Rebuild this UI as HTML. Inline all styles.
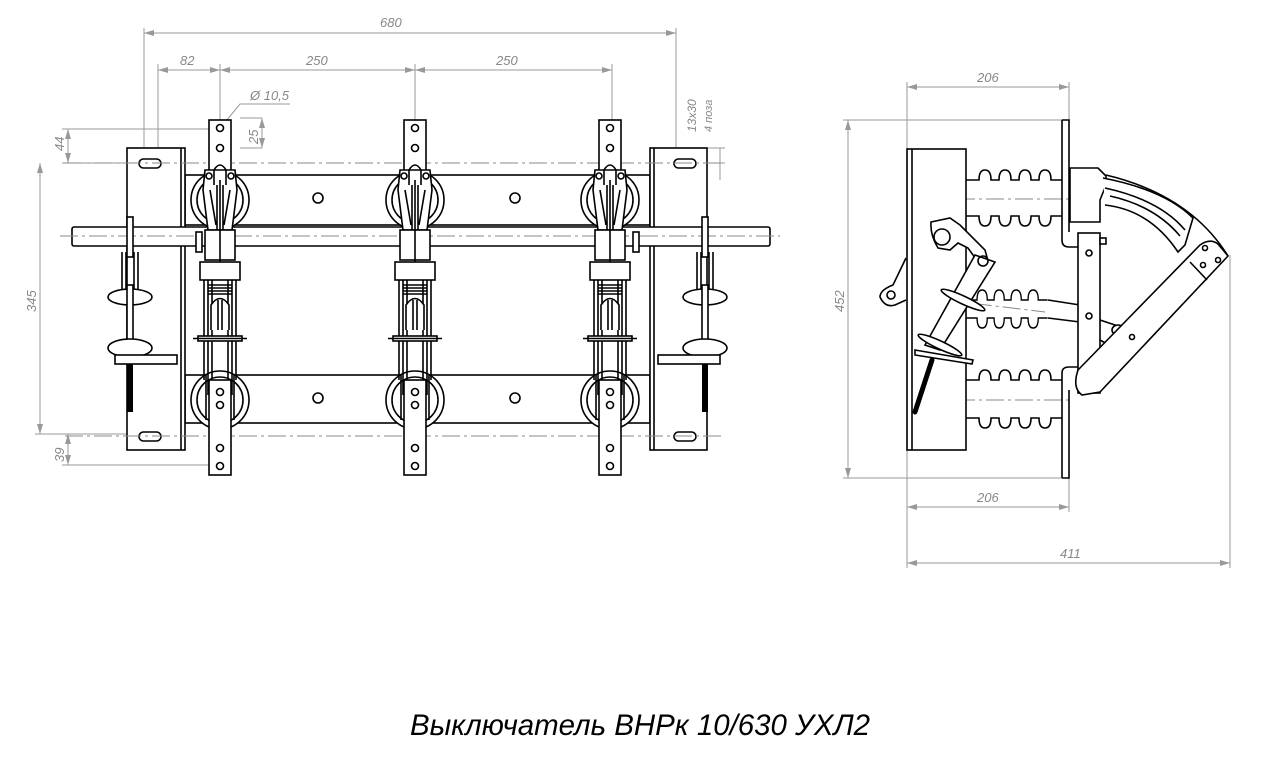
<!DOCTYPE html>
<html><head><meta charset="utf-8"><style>
html,body{margin:0;padding:0;background:#fff;}
svg{display:block;}
.k{stroke:#000;fill:none;stroke-width:1.6}
.kw{stroke:#000;fill:#fff;stroke-width:1.6}
.g{stroke:#999;fill:none;stroke-width:1}
.c{stroke:#888;fill:none;stroke-width:1;stroke-dasharray:18 4 3 4}
.t{font-family:"Liberation Sans",sans-serif;font-style:italic;fill:#888;font-size:13px}
</style></head><body>
<svg width="1265" height="758" viewBox="0 0 1265 758" xmlns="http://www.w3.org/2000/svg">
<defs>
<marker id="a" viewBox="0 0 10 6" refX="10" refY="3" markerWidth="10" markerHeight="6" orient="auto-start-reverse"><path d="M0,0L10,3L0,6z" fill="#999"/></marker>
<g id="ph">
 <circle cx="0" cy="200" r="29" class="kw"/><circle cx="0" cy="200" r="23" class="k"/>
 <circle cx="0" cy="400" r="29" class="kw"/><circle cx="0" cy="400" r="23" class="k"/>
 <rect x="-11" y="120" width="22" height="60" class="kw"/>
 <circle cx="0" cy="128" r="3.5" class="k"/><circle cx="0" cy="148" r="3.5" class="k"/>
 <path d="M-15,170 L15,170 L17,190 L12,230 L-12,230 L-17,190Z" class="kw"/>
 <path d="M-6,170 L-6,185 M6,170 L6,185 M-6,170 Q0,160 6,170 M-10,190 L-4,225 M10,190 L4,225 M-3,185 L-3,230 M3,185 L3,230" class="k"/>
 <circle cx="-11" cy="176" r="3" class="k"/><circle cx="11" cy="176" r="3" class="k"/>
 <rect x="-15" y="230" width="30" height="30" class="kw"/>
 <rect x="-20" y="262" width="40" height="18" class="kw"/>
 <path d="M0,180 L0,262" class="k" stroke-width="3"/>
 <path d="M-16,280 L-16,380 M-12,280 L-12,395 M12,280 L12,395 M16,280 L16,380 M-8,280 L-8,380 M8,280 L8,380" class="k"/>
 <path d="M-12,285 L12,285 M-12,288 L12,288 M-12,291 L12,291 M-12,294 L12,294" class="k"/>
 <path d="M-9,330 L-9,305 Q0,292 9,305 L9,330" class="kw"/>
 <path d="M-2,300 L-2,330 M2,300 L2,330" class="k"/>
 <rect x="-22" y="336" width="44" height="5" class="kw"/>
 <path d="M-27,338.5 L27,338.5" class="k" stroke-width="1"/>
 <rect x="-11" y="380" width="22" height="95" class="kw"/>
 <path d="M-14,375 L-14,420 M14,375 L14,420" class="k"/>
 <circle cx="0" cy="392" r="3.5" class="k" stroke-width="2.2"/><circle cx="0" cy="405" r="3.5" class="k" stroke-width="2.2"/>
 <circle cx="0" cy="448" r="3.5" class="k"/><circle cx="0" cy="466" r="3.5" class="k"/>
</g>
<g id="mech">
 <rect x="-3" y="217" width="6" height="40" class="kw"/>
 <path d="M-8,252 L-8,300 M-4,252 L-4,300 M4,252 L4,300 M8,252 L8,300" class="k"/>
 <ellipse cx="0" cy="297" rx="22" ry="8" class="kw"/>
 <rect x="-3" y="285" width="6" height="60" class="kw"/>
 <ellipse cx="0" cy="348" rx="22" ry="9" class="kw"/>
 <rect x="-15" y="355" width="62" height="9" class="kw"/>
 <rect x="-3" y="364" width="6" height="48" fill="#000"/>
</g>
<path id="bu" d="M0,0 L9,0 l4,0 q0,-10 6,-10 q6,0 6,10 l4,0 l4,0 q0,-10 6,-10 q6,0 6,10 l4,0 l4,0 q0,-10 6,-10 q6,0 6,10 l4,0 l4,0 q0,-10 6,-10 q6,0 6,10 l4,0 L96,0" class="k"/>
</defs>

<g class="g">
 <path d="M144,28 L144,450 M676,28 L676,420 M158,64 L158,450 M220,64 L220,120 M415,64 L415,120 M612,64 L612,120"/>
 <path d="M62,129 L215,129 M62,163 L127,163 M35,434 L127,434 M62,465 L215,465 M240,148 L262,148 M240,118 L262,118"/>
 <path d="M144,33 L676,33" marker-start="url(#a)" marker-end="url(#a)"/>
 <path d="M158,70 L220,70" marker-start="url(#a)" marker-end="url(#a)"/>
 <path d="M220,70 L415,70" marker-start="url(#a)" marker-end="url(#a)"/>
 <path d="M415,70 L612,70" marker-start="url(#a)" marker-end="url(#a)"/>
 <path d="M68,129 L68,163" marker-start="url(#a)" marker-end="url(#a)"/>
 <path d="M40,163 L40,434" marker-start="url(#a)" marker-end="url(#a)"/>
 <path d="M68,434 L68,465" marker-start="url(#a)" marker-end="url(#a)"/>
 <path d="M262,118 L262,148" marker-start="url(#a)" marker-end="url(#a)"/>
 <path d="M222,126 L240,104 L290,104"/>
 <path d="M700,148 L725,148 M700,163 L725,163 M720,180 L720,148 M720,150 L720,163"/>
</g>
<g class="t">
 <text x="380" y="27">680</text><text x="180" y="65">82</text>
 <text x="306" y="65">250</text><text x="496" y="65">250</text>
 <text x="250" y="100">Ø 10,5</text>
 <text transform="translate(64,151) rotate(-90)">44</text>
 <text transform="translate(36,312) rotate(-90)">345</text>
 <text transform="translate(64,462) rotate(-90)">39</text>
 <text transform="translate(258,144) rotate(-90)">25</text>
 <text transform="translate(696,132) rotate(-90)" font-size="12">13x30</text>
 <text transform="translate(712,132) rotate(-90)" font-size="11">4 поза</text>
</g>

<rect x="185" y="175" width="465" height="50" class="kw"/>
<rect x="185" y="375" width="465" height="48" class="kw"/>
<circle cx="318" cy="198" r="5" class="k"/><circle cx="515" cy="198" r="5" class="k"/>
<circle cx="318" cy="398" r="5" class="k"/><circle cx="515" cy="398" r="5" class="k"/>
<rect x="127" y="148" width="58" height="302" class="kw"/><path d="M181,148 L181,450" class="k"/>
<rect x="650" y="148" width="57" height="302" class="kw"/><path d="M654,148 L654,450" class="k"/>
<rect x="139" y="159" width="22" height="9" rx="4.5" class="k"/><rect x="139" y="432" width="22" height="9" rx="4.5" class="k"/>
<rect x="674" y="159" width="22" height="9" rx="4.5" class="k"/><rect x="674" y="432" width="22" height="9" rx="4.5" class="k"/>
<rect x="72" y="227" width="698" height="19" rx="2" class="kw"/>
<path d="M65,163 L725,163 M65,436 L725,436 M60,236 L780,236" class="c"/>
<rect x="196" y="232" width="6" height="20" class="kw"/><rect x="633" y="232" width="6" height="20" class="kw"/>
<use href="#ph" x="220"/><use href="#ph" x="415"/><use href="#ph" x="610"/>
<use href="#mech" x="130"/>
<use href="#mech" transform="translate(705,0) scale(-1,1)"/>

<g class="g">
 <path d="M907,82 L907,568 M1069,82 L1069,120 M1069,478 L1069,512 M1230,255 L1230,568 M843,120 L1062,120 M843,478 L1062,478"/>
 <path d="M907,87 L1069,87" marker-start="url(#a)" marker-end="url(#a)"/>
 <path d="M907,507 L1069,507" marker-start="url(#a)" marker-end="url(#a)"/>
 <path d="M907,563 L1230,563" marker-start="url(#a)" marker-end="url(#a)"/>
 <path d="M848,120 L848,478" marker-start="url(#a)" marker-end="url(#a)"/>
</g>
<g class="t">
 <text x="977" y="82">206</text><text x="977" y="502">206</text><text x="1060" y="558">411</text>
 <text transform="translate(844,312) rotate(-90)">452</text>
</g>
<use href="#bu" transform="translate(966,180)"/>
<use href="#bu" transform="translate(966,216) scale(1,-1)"/>
<use href="#bu" transform="translate(966,380)"/>
<use href="#bu" transform="translate(966,418) scale(1,-1)"/>
<use href="#bu" transform="translate(966,300) scale(0.85,1)"/>
<use href="#bu" transform="translate(966,318) scale(0.85,-1)"/>
<path d="M1048,300 L1080,305 M1048,318 L1080,322" class="k"/>
<path d="M957,199 L1070,199 M957,400 L1070,400 M945,300 L1045,312" class="c"/>
<rect x="907" y="149" width="59" height="301" class="kw"/><path d="M912,149 L912,450" class="k"/>
<path d="M1062,120 L1069,120 L1069,232 M1062,120 L1062,240 Q1062,247 1069,247 L1078,247 M1062,478 L1069,478 L1069,390 M1062,478 L1062,373 Q1062,367 1069,367 L1078,367" class="k"/>
<path d="M1070,168 L1098,168 L1106,176 L1106,185 L1100,200 L1100,222 L1070,222Z" class="kw"/>
<path d="M1103,178 Q1165,190 1193,218 L1185,245 L1178,252 Q1150,210 1105,205" class="kw"/>
<path d="M1105,188 Q1160,200 1185,230 M1110,196 Q1155,206 1180,236" class="k"/>
<path d="M1106,175 Q1190,195 1228,256" class="k"/>
<rect x="1078" y="233" width="22" height="160" class="kw"/>
<rect x="1100" y="238" width="6" height="6" class="kw"/>
<circle cx="1089" cy="253" r="3" class="k"/><circle cx="1089" cy="316" r="3" class="k"/><circle cx="1089" cy="382" r="3" class="k"/>
<path d="M1100,320 L1130,330 M1100,340 L1118,350" class="k"/>
<ellipse cx="1118" cy="330" rx="6" ry="5" class="kw"/>
<path d="M1078,370 L1200,245 Q1210,238 1218,244 L1228,256 L1100,392 L1082,395 Q1072,388 1078,370Z" class="kw"/>
<path d="M1190,262 L1207,280" class="k"/>
<circle cx="1132" cy="337" r="2.5" class="k"/><circle cx="1205" cy="248" r="2.5" class="k"/><circle cx="1203" cy="265" r="2.5" class="k"/><circle cx="1218" cy="260" r="2.5" class="k"/>
<path d="M931,222 L950,218 L960,225 L985,250 L990,268 L978,262 L968,248 L958,243 L950,250 L938,248 Q930,235 931,222Z" class="kw"/>
<circle cx="942" cy="237" r="8" class="kw" stroke-width="3"/>
<path d="M975,255 L995,262 L940,350 L925,345Z" class="kw"/>
<circle cx="983" cy="261" r="5" class="k"/>
<ellipse cx="963" cy="300" rx="24" ry="4" transform="rotate(25 963 300)" class="kw"/>
<ellipse cx="940" cy="345" rx="24" ry="4" transform="rotate(25 940 345)" class="kw"/>
<path d="M915,350 L973,360 L972,364 L915,355Z" class="kw"/>
<path d="M932,360 L915,412" stroke="#000" stroke-width="5" stroke-linecap="round"/>
<path d="M906,258 L893,285 Q880,290 880,297 Q885,308 895,305 L906,300" class="kw"/>
<circle cx="891" cy="295" r="4" class="k"/>

<text x="640" y="735" text-anchor="middle" font-family="'Liberation Sans',sans-serif" font-style="italic" font-size="30" fill="#000" textLength="460" lengthAdjust="spacingAndGlyphs">Выключатель ВНРк 10/630 УХЛ2</text>
</svg>
</body></html>
